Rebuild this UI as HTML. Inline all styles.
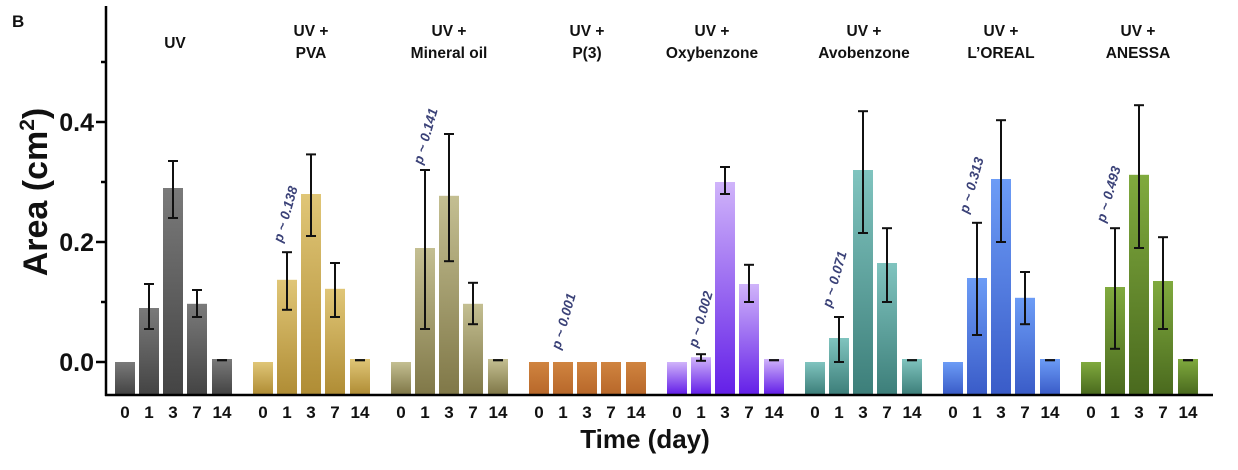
<!DOCTYPE html>
<html><head><meta charset="utf-8"><style>
body{margin:0;background:#fff;}
svg{display:block;font-family:"Liberation Sans",Arial,sans-serif;}
</style></head><body>
<svg id="s" width="1238" height="470" viewBox="0 0 1238 470" xmlns="http://www.w3.org/2000/svg">
<defs id="d"></defs>
<g id="bars"></g>
<line x1="106" y1="6" x2="106" y2="396" stroke="#000" stroke-width="2.5"/>
<line x1="105" y1="395" x2="1213" y2="395" stroke="#000" stroke-width="2.5"/>
<g stroke="#000" stroke-width="2.5">
<line x1="96" y1="362" x2="106" y2="362"/><line x1="96" y1="242" x2="106" y2="242"/><line x1="96" y1="122" x2="106" y2="122"/>
<line x1="101" y1="302" x2="106" y2="302"/><line x1="101" y1="182" x2="106" y2="182"/><line x1="101" y1="62" x2="106" y2="62"/>
</g>
<g font-weight="bold" font-size="25" text-anchor="end" fill="#111">
<text x="94" y="371">0.0</text><text x="94" y="251">0.2</text><text x="94" y="131">0.4</text>
</g>
<text x="0" y="0" transform="translate(47,192) rotate(-90)" text-anchor="middle" font-weight="bold" font-size="34" fill="#111">Area (cm<tspan font-size="21" dy="-13">2</tspan><tspan dy="13">)</tspan></text>
<text x="12" y="27" font-weight="bold" font-size="17" fill="#111">B</text>
<text x="645" y="448" text-anchor="middle" font-weight="bold" font-size="26" fill="#111">Time (day)</text>
<g font-weight="bold" font-size="15.5" text-anchor="middle" fill="#111">
<text x="175" y="48">UV</text>
<text x="311" y="36">UV +</text><text x="311" y="58">PVA</text>
<text x="449" y="36">UV +</text><text x="449" y="58">Mineral oil</text>
<text x="587" y="36">UV +</text><text x="587" y="58">P(3)</text>
<text x="712" y="36">UV +</text><text x="712" y="58">Oxybenzone</text>
<text x="864" y="36">UV +</text><text x="864" y="58">Avobenzone</text>
<text x="1001" y="36">UV +</text><text x="1001" y="58">L’OREAL</text>
<text x="1138" y="36">UV +</text><text x="1138" y="58">ANESSA</text>
</g>
<g font-weight="bold" font-size="17" text-anchor="middle" fill="#111">
<text x="125" y="418">0</text><text x="149" y="418">1</text><text x="173" y="418">3</text><text x="197" y="418">7</text><text x="222" y="418">14</text>
<text x="263" y="418">0</text><text x="287" y="418">1</text><text x="311" y="418">3</text><text x="335" y="418">7</text><text x="360" y="418">14</text>
<text x="401" y="418">0</text><text x="425" y="418">1</text><text x="449" y="418">3</text><text x="473" y="418">7</text><text x="498" y="418">14</text>
<text x="539" y="418">0</text><text x="563" y="418">1</text><text x="587" y="418">3</text><text x="611" y="418">7</text><text x="636" y="418">14</text>
<text x="677" y="418">0</text><text x="701" y="418">1</text><text x="725" y="418">3</text><text x="749" y="418">7</text><text x="774" y="418">14</text>
<text x="815" y="418">0</text><text x="839" y="418">1</text><text x="863" y="418">3</text><text x="887" y="418">7</text><text x="912" y="418">14</text>
<text x="953" y="418">0</text><text x="977" y="418">1</text><text x="1001" y="418">3</text><text x="1025" y="418">7</text><text x="1050" y="418">14</text>
<text x="1091" y="418">0</text><text x="1115" y="418">1</text><text x="1139" y="418">3</text><text x="1163" y="418">7</text><text x="1188" y="418">14</text>
</g>
<g font-style="italic" font-weight="bold" font-size="13.5" fill="#3b4278">
<text transform="translate(282,243) rotate(-74)">p ~ 0.138</text>
<text transform="translate(422,165) rotate(-74)">p ~ 0.141</text>
<text transform="translate(560,350) rotate(-74)">p ~ 0.001</text>
<text transform="translate(697,348) rotate(-74)">p ~ 0.002</text>
<text transform="translate(831,308) rotate(-74)">p ~ 0.071</text>
<text transform="translate(968,214) rotate(-74)">p ~ 0.313</text>
<text transform="translate(1105,223) rotate(-74)">p ~ 0.493</text>
</g>
<g id="err" stroke="#111" stroke-width="2"></g>
</svg>
<script>
var cols=[["#7a7a7a","#444"],["#e0c677","#b08d35"],["#c4bf92","#807848"],["#d08440","#b8682a"],["#d0b4fa","#6420e8"],["#80c4bf","#3d7f7a"],["#6c9cf6","#3a5cc8"],["#80aa3e","#4a6a1e"]];
var data=[
[[0],[0.09,0.055,0.13],[0.29,0.24,0.335],[0.097,0.075,0.12],[0.005,0.003,0.003]],
[[0],[0.137,0.087,0.183],[0.28,0.21,0.346],[0.122,0.075,0.165],[0.005,0.003,0.003]],
[[0],[0.19,0.055,0.32],[0.277,0.168,0.38],[0.097,0.063,0.132],[0.005,0.003,0.003]],
[[0],[0],[0],[0],[0]],
[[0],[0.008,0.002,0.013],[0.3,0.28,0.325],[0.13,0.1,0.162],[0.005,0.003,0.003]],
[[0],[0.04,0.0,0.075],[0.32,0.215,0.418],[0.165,0.1,0.223],[0.005,0.003,0.003]],
[[0],[0.14,0.045,0.232],[0.305,0.2,0.403],[0.107,0.063,0.15],[0.005,0.003,0.003]],
[[0],[0.125,0.022,0.223],[0.312,0.19,0.428],[0.135,0.055,0.208],[0.005,0.003,0.003]]];
var ns="http://www.w3.org/2000/svg",d=document.getElementById("d"),b=document.getElementById("bars"),e=document.getElementById("err");
function el(t,a,p){var x=document.createElementNS(ns,t);for(var k in a)x.setAttribute(k,a[k]);p.appendChild(x);return x;}
var offs=[0,24,48,72,97];
data.forEach(function(g,i){
 var gr=el("linearGradient",{id:"g"+i,x1:0,y1:0,x2:0,y2:1},d);
 el("stop",{offset:"0","stop-color":cols[i][0]},gr);el("stop",{offset:"1","stop-color":cols[i][1]},gr);
 g.forEach(function(v,j){
  var cx=125+138*i+offs[j],y=362-600*v[0];
  el("rect",{x:cx-10,y:y,width:20,height:394-y,fill:"url(#g"+i+")"},b);
  if(v.length>1){var y1=362-600*v[1],y2=362-600*v[2];
   el("line",{x1:cx,y1:y1,x2:cx,y2:y2},e);
   el("line",{x1:cx-5,y1:y1,x2:cx+5,y2:y1},e);
   el("line",{x1:cx-5,y1:y2,x2:cx+5,y2:y2},e);}
 });
});
</script>
</body></html>
